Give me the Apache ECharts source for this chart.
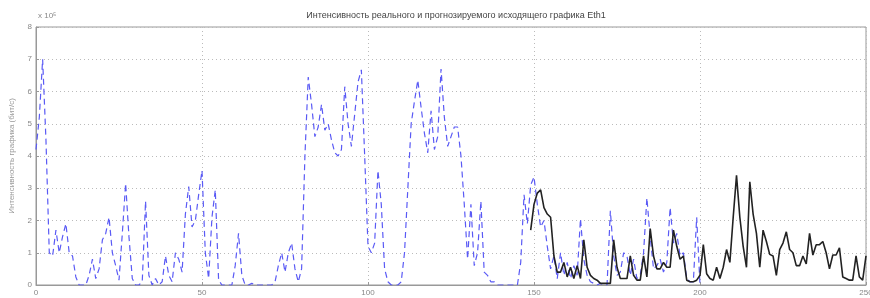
<!DOCTYPE html>
<html>
<head>
<meta charset="utf-8">
<script src="https://cdn.jsdelivr.net/npm/echarts@6/dist/echarts.min.js"></script>
<style>
html,body{margin:0;padding:0;background:#fff;}
#chart{width:870px;height:298px;}
</style>
</head>
<body>
<div id="chart"></div>
<script>
const titleText = "Интенсивность реального и прогнозируемого исходящего графика Eth1";
const yAxisName = "Интенсивность графика (бит/с)";
const exponentText = "x 10⁵";
const xTicks = [0, 50, 100, 150, 200, 250];
const yTicks = [0, 1, 2, 3, 4, 5, 6, 7, 8];

// real traffic, x = 0..200
const realStart = 0;
const realValues = [
  4.2, 5.2, 7.0, 4.5, 1.0, 0.9, 1.7, 1.0, 1.5, 1.9,
  1.0, 0.9, 0.25, 0, 0, 0, 0.3, 0.8, 0.2, 0.5,
  1.4, 1.6, 2.1, 1.0, 0.6, 0.15, 1.6, 3.15, 1.5, 0.2,
  0, 0, 0.1, 2.6, 0.3, 0, 0.2, 0, 0.1, 0.9,
  0.3, 0.1, 1.0, 0.8, 0.4, 2.2, 3.05, 1.8, 2.0, 2.8,
  3.55, 1.0, 0.2, 2.1, 2.95, 0.15, 0, 0, 0, 0,
  0.6, 1.6, 0.3, 0, 0, 0.05, 0, 0, 0, 0,
  0, 0, 0.1, 0.6, 1.0, 0.4, 1.0, 1.3, 0.5, 0.1,
  0.5, 4.0, 6.45, 5.6, 4.6, 4.9, 5.6, 4.8, 5.0, 4.5,
  4.1, 4.0, 4.2, 6.15, 5.0, 4.3, 5.3, 6.3, 6.67, 4.0,
  1.2, 1.0, 1.3, 3.55, 2.5, 0.5, 0.1, 0, 0, 0,
  0.1, 1.0, 3.0, 5.0, 5.7, 6.35, 5.5, 4.7, 4.1, 5.4,
  4.2, 4.6, 6.7, 5.2, 4.3, 4.6, 4.9, 4.9, 4.0, 2.5,
  0.8, 2.5, 0.6, 1.0, 2.6, 0.4, 0.3, 0.1, 0.1, 0,
  0, 0, 0, 0, 0, 0, 0.7, 2.8, 1.9, 3.1,
  3.35, 2.5, 1.8, 2.0, 1.2, 0.5, 0.9, 0.2, 1.0, 0.3,
  0.7, 0.2, 0.6, 0.3, 2.05, 0.8, 0.3, 0.1, 0.05, 0,
  0.05, 0, 0, 2.3, 0.9, 0.3, 0.4, 1.0, 0.9, 0.3,
  0.8, 0.2, 0.3, 1.0, 2.7, 1.5, 0.5, 0.6, 0.8, 0.4,
  0.7, 2.4, 1.3, 1.6, 0.9, 1.0, 0.2, 0.1, 0.1, 2.1,
  0
];

// forecast traffic, x = 149..250
const forecastStart = 149;
const forecastValues = [
  1.7, 2.5, 2.85, 2.95, 2.4, 2.2, 2.1, 0.9, 0.4, 0.4,
  0.7, 0.25, 0.55, 0.2, 0.6, 0.2, 1.4, 0.55, 0.3, 0.2,
  0.15, 0.05, 0.05, 0.05, 0.05, 1.4, 0.55, 0.2, 0.2, 0.2,
  0.9, 0.3, 0.15, 0.15, 0.9, 0.25, 1.75, 0.9, 0.5, 0.5,
  0.7, 0.55, 0.55, 1.7, 1.2, 0.8, 0.9, 0.15, 0.1, 0.1,
  0.15, 0.3, 1.25, 0.35, 0.2, 0.15, 0.55, 0.2, 0.55, 1.1,
  0.7, 2.1, 3.4, 2.1, 1.2, 0.55, 3.2, 2.2, 1.6, 0.55,
  1.7, 1.35, 0.95, 0.9, 0.3, 1.1, 1.3, 1.65, 1.1, 1.0,
  0.6, 0.6, 0.9, 0.65, 1.6, 0.93, 1.25, 1.25, 1.35, 1.0,
  0.5, 0.93, 0.93, 1.15, 0.25, 0.2, 0.15, 0.15, 0.9, 0.25,
  0.15, 0.9
];

const realData = realValues.map((v, i) => [realStart + i, v]);
const forecastData = forecastValues.map((v, i) => [forecastStart + i, v]);

const chart = echarts.init(document.getElementById('chart'), null, {renderer: 'canvas'});
const font = 'Liberation Sans, Arial, sans-serif';
chart.setOption({
  animation: false,
  backgroundColor: '#fff',
  title: {
    text: titleText,
    left: 451, top: 6, textAlign: 'center',
    textStyle: {fontSize: 9, fontWeight: 'normal', color: '#444', fontFamily: font}
  },
  graphic: [{
    type: 'text', left: 38, top: 12,
    style: {text: exponentText, fontSize: 8, fill: '#888', fontFamily: font}
  }],
  grid: {left: 36, right: 4, top: 27, bottom: 13, show: true, borderColor: '#999', borderWidth: 1,
         containLabel: false, outerBoundsMode: 'none'},
  xAxis: {
    type: 'value', min: 0, max: 250, interval: 50,
    axisLine: {show: true, onZero: false, lineStyle: {color: '#999'}},
    axisTick: {show: true, inside: true, length: 3, lineStyle: {color: '#999'}},
    axisLabel: {color: '#888', fontSize: 8, margin: 4, fontFamily: font},
    splitLine: {show: true, lineStyle: {color: '#bbb', type: [1, 3], width: 1}}
  },
  yAxis: {
    type: 'value', min: 0, max: 8, interval: 1,
    name: yAxisName, nameLocation: 'middle', nameGap: 20,
    nameTextStyle: {color: '#999', fontSize: 8, fontFamily: font},
    axisLine: {show: true, lineStyle: {color: '#999'}},
    axisTick: {show: true, inside: true, length: 3, lineStyle: {color: '#999'}},
    axisLabel: {color: '#888', fontSize: 8, margin: 4, fontFamily: font},
    splitLine: {show: true, lineStyle: {color: '#bbb', type: [1, 3], width: 1}}
  },
  series: [
    {
      name: 'real', type: 'line', data: realData, symbol: 'none',
      lineStyle: {color: '#5a5af5', width: 1.2, type: [6, 4]}
    },
    {
      name: 'forecast', type: 'line', data: forecastData, symbol: 'none',
      lineStyle: {color: '#222', width: 1.6}
    }
  ]
});
</script>
</body>
</html>
